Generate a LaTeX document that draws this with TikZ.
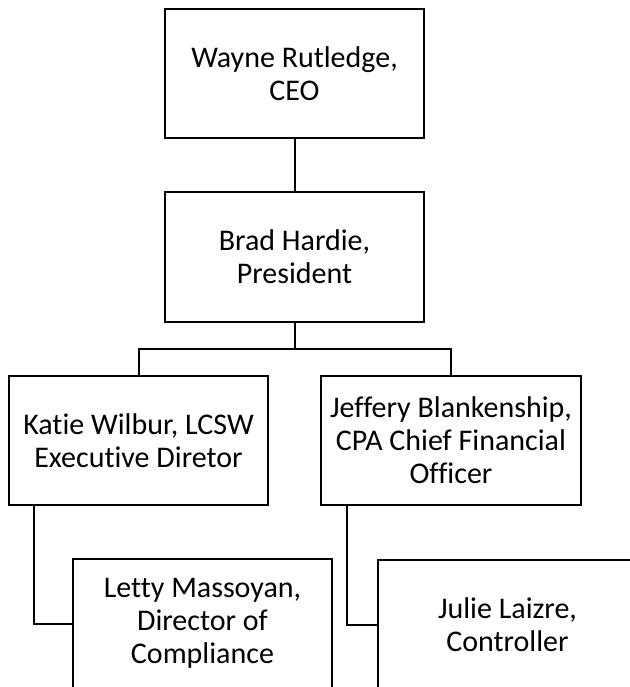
\documentclass[tikz,border=0pt]{standalone}
\usepackage{fontspec}
\setmainfont{Carlito}[Ligatures=NoCommon]
\tikzset{
	person/.style={draw, line width=2pt, inner sep=0pt, align=center,
		minimum width=259pt, minimum height=129pt, font=\fontsize{30}{33}\selectfont},
	link/.style={line width=2pt}
}
\begin{document}
\begin{tikzpicture}[x=1pt,y=-1pt]
		\useasboundingbox (0,0) rectangle (629,687);
		\node[person] (ceo) at (294.5,73.5) {Wayne Rutledge,\\CEO};
		\node[person, minimum height=130pt] (pres) at (294.5,257) {Brad Hardie,\\President};
		\node[person] (katie) at (138.5,440.5) {Katie Wilbur, LCSW\\Executive Diretor};
		\node[person, minimum width=260pt] (jeff) at (451,440.5) {Jeffery Blankenship,\\CPA Chief Financial\\Officer};
		\node[person] (letty) at (202.5,623.5) {Letty Massoyan,\\Director of\\Compliance};
		\node[person] (julie) at (507.5,624.5) {Julie Laizre,\\Controller};
		\coordinate (bus) at (294.5,349);
		\draw[link] (ceo) -- (pres);
		\draw[link] (pres) -- (bus);
		\draw[link] (katie.north) |- (bus) -| (jeff.north);
		\draw[link] ([xshift=26pt]katie.south west) |- (letty.west);
		\draw[link] ([xshift=27pt]jeff.south west) |- (julie.west);
	\end{tikzpicture}
\end{document}
